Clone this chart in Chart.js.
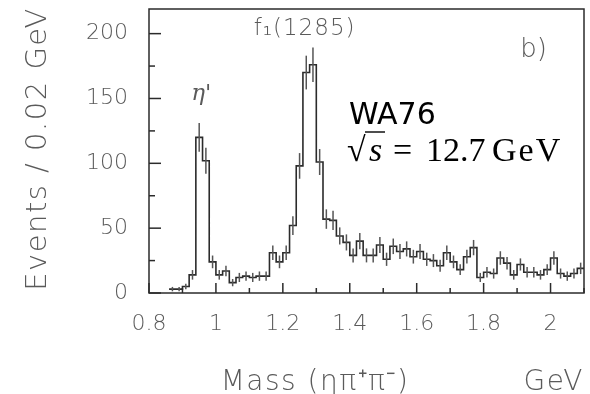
<!DOCTYPE html>
<html>
<head>
<meta charset="utf-8">
<script src="https://cdn.jsdelivr.net/npm/chart.js@4.4.1/dist/chart.umd.min.js"></script>
<style>
  html, body { margin: 0; padding: 0; background: #fff; }
  #wrap { width: 590px; height: 394px; }
</style>
</head>
<body>
<div id="wrap"><canvas id="canvas" width="590" height="394"></canvas></div>
<script>
// bin low edges (GeV), 0.02 GeV bins
const massBins = [
  0.86, 0.88, 0.90, 0.92, 0.94, 0.96, 0.98, 1.00, 1.02, 1.04,
  1.06, 1.08, 1.10, 1.12, 1.14, 1.16, 1.18, 1.20, 1.22, 1.24,
  1.26, 1.28, 1.30, 1.32, 1.34, 1.36, 1.38, 1.40, 1.42, 1.44,
  1.46, 1.48, 1.50, 1.52, 1.54, 1.56, 1.58, 1.60, 1.62, 1.64,
  1.66, 1.68, 1.70, 1.72, 1.74, 1.76, 1.78, 1.80, 1.82, 1.84,
  1.86, 1.88, 1.90, 1.92, 1.94, 1.96, 1.98, 2.00, 2.02, 2.04,
  2.06, 2.08
];
const lastEdge = 2.10;

const counts = [
  3, 3, 5, 14, 120, 102, 24, 14, 17, 8,
  12, 13, 12, 13, 13, 31, 24, 31, 52, 98,
  170, 176, 101, 57, 56, 44, 39, 29, 40, 29,
  29, 37, 26, 36, 32, 34, 28, 32, 26, 25,
  21, 31, 24, 18, 28, 35, 12, 16, 15, 27,
  23, 14, 22, 16, 16, 14, 18, 27, 15, 13,
  15, 19
];

const errors = [
  1.7, 1.7, 2.2, 3.7, 11, 10, 4.9, 3.7, 4.1, 2.8,
  3.5, 3.6, 3.5, 3.6, 3.6, 5.6, 4.9, 5.6, 7.2, 9.9,
  13, 13.3, 10, 7.5, 7.5, 6.6, 6.2, 5.4, 6.3, 5.4,
  5.4, 6.1, 5.1, 6, 5.7, 5.8, 5.3, 5.7, 5.1, 5,
  4.6, 5.6, 4.9, 4.2, 5.3, 5.9, 3.5, 4, 3.9, 5.2,
  4.8, 3.7, 4.7, 4, 4, 3.7, 4.2, 5.2, 3.9, 3.6,
  3.9, 4.4
];

const xTicks = [0.8, 1, 1.2, 1.4, 1.6, 1.8, 2];
const xMinor = [0.9, 1.1, 1.3, 1.5, 1.7, 1.9, 2.1];
const yTicks = [0, 50, 100, 150, 200];
const yMinor = [25, 75, 125, 175];

const lineColor = "#2b2b2b";
const textGray = "#5a5a5a";
const lightFont = "'DejaVu Sans', 'Liberation Sans', sans-serif";

const histPoints = massBins.map((m, i) => ({ x: m, y: counts[i] }));
histPoints.push({ x: lastEdge, y: counts[counts.length - 1] });

const decorations = {
  id: "decorations",
  afterDatasetsDraw(chart) {
    const ctx = chart.ctx;
    const xs = chart.scales.x;
    const ys = chart.scales.y;
    const area = chart.chartArea;
    ctx.save();

    // error bars at bin centres
    ctx.strokeStyle = "#555";
    ctx.lineWidth = 1.5;
    massBins.forEach((m, i) => {
      const cx = xs.getPixelForValue(m + 0.01);
      ctx.beginPath();
      ctx.moveTo(cx, ys.getPixelForValue(counts[i] - errors[i]));
      ctx.lineTo(cx, ys.getPixelForValue(counts[i] + errors[i]));
      ctx.stroke();
    });

    // inward tick marks
    ctx.strokeStyle = lineColor;
    ctx.lineWidth = 1.5;
    xTicks.forEach((v) => {
      const px = xs.getPixelForValue(v);
      ctx.beginPath();
      ctx.moveTo(px, area.bottom);
      ctx.lineTo(px, area.bottom - 10);
      ctx.stroke();
    });
    xMinor.forEach((v) => {
      const px = xs.getPixelForValue(v);
      ctx.beginPath();
      ctx.moveTo(px, area.bottom);
      ctx.lineTo(px, area.bottom - 5);
      ctx.stroke();
    });
    yTicks.forEach((v) => {
      const py = ys.getPixelForValue(v);
      ctx.beginPath();
      ctx.moveTo(area.left, py);
      ctx.lineTo(area.left + 12, py);
      ctx.stroke();
    });
    yMinor.forEach((v) => {
      const py = ys.getPixelForValue(v);
      ctx.beginPath();
      ctx.moveTo(area.left, py);
      ctx.lineTo(area.left + 6, py);
      ctx.stroke();
    });

    // frame
    ctx.strokeRect(area.left, area.top, area.right - area.left, area.bottom - area.top);
    ctx.restore();
  },
  afterDraw(chart) {
    const ctx = chart.ctx;
    const xs = chart.scales.x;
    const ys = chart.scales.y;
    ctx.save();
    ctx.fillStyle = textGray;
    ctx.textBaseline = "alphabetic";

    // axis titles
    ctx.letterSpacing = "1.5px";
    ctx.font = "300 28px " + lightFont;
    ctx.textAlign = "center";
    ctx.fillText("Mass (\u03b7\u03c0\u207a\u03c0\u207b)", 315, 390);
    ctx.textAlign = "right";
    ctx.fillText("GeV", 584, 390);

    ctx.save();
    ctx.translate(46, 149);
    ctx.rotate(-Math.PI / 2);
    ctx.textAlign = "center";
    ctx.font = "300 29px " + lightFont;
    ctx.fillText("Events / 0.02 GeV", 0, 0);
    ctx.restore();

    // peak labels
    ctx.letterSpacing = "1px";
    ctx.textAlign = "center";
    ctx.font = "300 23px " + lightFont;
    ctx.fillText("f\u2081(1285)", xs.getPixelForValue(1.265), ys.getPixelForValue(199));
    ctx.letterSpacing = "0px";
    ctx.font = "italic 23px 'DejaVu Serif', serif";
    ctx.fillText("\u03b7'", xs.getPixelForValue(0.956), ys.getPixelForValue(149));
    ctx.font = "300 26px " + lightFont;
    ctx.fillText("b)", xs.getPixelForValue(1.949), ys.getPixelForValue(182));

    // experiment label
    ctx.fillStyle = "#000";
    ctx.textAlign = "left";
    ctx.font = "30px 'DejaVu Sans', sans-serif";
    ctx.fillText("WA76", 349, 124);

    const base = 161;
    ctx.font = "34px 'Liberation Serif', serif";
    ctx.fillText("\u221a", 347, base);
    ctx.font = "italic 34px 'Liberation Serif', serif";
    ctx.fillText("s", 369, base);
    ctx.lineWidth = 1.4;
    ctx.strokeStyle = "#000";
    ctx.beginPath();
    ctx.moveTo(365, 132);
    ctx.lineTo(385, 132);
    ctx.stroke();
    ctx.font = "34px 'Liberation Serif', serif";
    ctx.fillText("=", 393, base);
    ctx.fillText("12.7", 426, base);
    ctx.letterSpacing = "2px";
    ctx.fillText("GeV", 492, base);
    ctx.restore();
  }
};

new Chart(document.getElementById("canvas").getContext("2d"), {
  type: "line",
  data: {
    datasets: [
      {
        data: histPoints,
        stepped: "before",
        borderColor: lineColor,
        borderWidth: 1.6,
        pointRadius: 0,
        fill: false,
      },
    ],
  },
  options: {
    responsive: false,
    animation: false,
    devicePixelRatio: 1,
    layout: { padding: { top: 9, right: 6, left: 0, bottom: 0 } },
    plugins: { legend: { display: false }, tooltip: { enabled: false } },
    scales: {
      x: {
        type: "linear",
        min: 0.8,
        max: 2.1,
        grid: { display: false, drawTicks: false },
        border: { display: false },
        afterBuildTicks: (scale) => {
          scale.ticks = xTicks.map((v) => ({ value: v }));
        },
        afterFit: (scale) => {
          scale.height = 101;
          scale.paddingLeft = 0;
          scale.paddingRight = 0;
        },
        ticks: {
          autoSkip: false,
          maxRotation: 0,
          padding: 18,
          color: textGray,
          font: { family: lightFont, size: 22, weight: 300 },
          callback: (v) => String(v),
        },
      },
      y: {
        type: "linear",
        min: 0,
        max: 219,
        grid: { display: false, drawTicks: false },
        border: { display: false },
        afterBuildTicks: (scale) => {
          scale.ticks = yTicks.map((v) => ({ value: v }));
        },
        afterFit: (scale) => {
          scale.width = 149;
          scale.paddingTop = 0;
          scale.paddingBottom = 0;
        },
        ticks: {
          autoSkip: false,
          padding: 21,
          color: textGray,
          font: { family: lightFont, size: 22, weight: 300 },
          callback: (v) => String(v),
        },
      },
    },
  },
  plugins: [decorations],
});
</script>
</body>
</html>
